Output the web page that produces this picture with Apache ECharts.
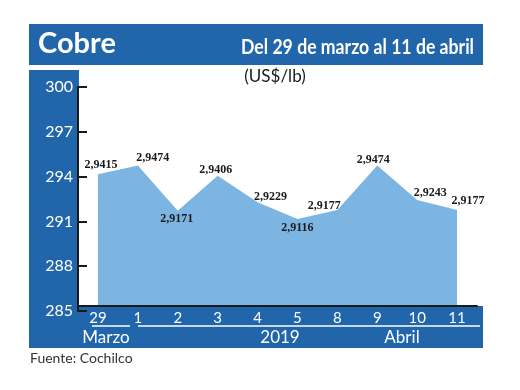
<!DOCTYPE html>
<html>
<head>
<meta charset="utf-8">
<script src="https://cdn.jsdelivr.net/npm/echarts@6/dist/echarts.min.js"></script>
<style>html,body{margin:0;padding:0;background:#fff;}#c{width:520px;height:390px;}</style>
</head>
<body>
<div id="c"></div>
<script>
// ---- data ----
const days = ['29', '1', '2', '3', '4', '5', '8', '9', '10', '11'];
const priceUsdLb = [2.9415, 2.9474, 2.9171, 2.9406, 2.9229, 2.9116, 2.9177, 2.9474, 2.9243, 2.9177];
const yTicks = [285, 288, 291, 294, 297, 300];
const groupLabels = ['Marzo', '2019', 'Abril'];
const titleText = 'Cobre';
const subtitleText = 'Del 29 de marzo al 11 de abril';
const unitText = '(US$/lb)';
const sourceText = 'Fuente: Cochilco';

// ---- layout / style ----
const labelOffsets = [[3,-9],[15,-8],[-1,8],[-2,-6],[13,-5],[0,9],[-13,-4],[-4,-6],[13,-7],[11,-9]];
const DARK = '#2166ab';
const LIGHT = '#7cb5e1';
const labelFont = '"Liberation Serif",serif';

function textWidth(font, txt) {
  const cv = document.createElement('canvas').getContext('2d');
  cv.font = font;
  return cv.measureText(txt).width;
}
const subFont = 'bold 21px Lato';
const subScale = 233 / textWidth(subFont, subtitleText);

const chart = echarts.init(document.getElementById('c'), null, {renderer: 'canvas'});

const seriesData = priceUsdLb.map((p, i) => ({
  value: p * 100,
  label: {offset: labelOffsets[i], formatter: p.toFixed(4).replace('.', ',')}
}));

chart.setOption({
  animation: false,
  backgroundColor: '#fff',
  grid: {left: 78, right: 43, top: 87, bottom: 79},
  xAxis: {
    type: 'category',
    data: days,
    boundaryGap: true,
    offset: -5,
    z: 10,
    axisLine: {lineStyle: {color: '#1a1a1a', width: 2}},
    axisTick: {show: false},
    axisLabel: {color: '#fff', fontFamily: 'Lato', fontSize: 15, margin: 5, interval: 0}
  },
  yAxis: {
    type: 'value',
    min: yTicks[0],
    max: yTicks[yTicks.length - 1],
    interval: 3,
    z: 10,
    splitLine: {show: false},
    axisLine: {show: true, lineStyle: {color: '#1a1a1a', width: 2}},
    axisTick: {show: true, inside: true, length: 9, lineStyle: {color: '#1a1a1a', width: 2}},
    axisLabel: {color: '#fff', fontFamily: 'Lato', fontSize: 16, margin: 5}
  },
  series: [{
    type: 'line',
    data: seriesData,
    symbol: 'circle',
    symbolSize: 1,
    showSymbol: true,
    itemStyle: {color: 'rgba(0,0,0,0)', borderWidth: 0},
    lineStyle: {width: 0, color: LIGHT},
    areaStyle: {color: LIGHT, opacity: 1},
    label: {
      show: true,
      position: 'inside',
      color: '#1a1a1a',
      fontFamily: labelFont,
      fontWeight: 'bold',
      fontSize: 12
    },
    z: 2
  }],
  graphic: [
    {type: 'rect', z: 0, shape: {x: 29, y: 24, width: 454, height: 41}, style: {fill: DARK}},
    {type: 'rect', z: 0, shape: {x: 29, y: 70, width: 50, height: 278}, style: {fill: DARK}},
    {type: 'rect', z: 5, shape: {x: 29, y: 306, width: 454, height: 42}, style: {fill: DARK}},
    {type: 'text', z: 20, x: 38, y: 44, style: {text: titleText, fill: '#fff', font: 'bold 29px Lato', textVerticalAlign: 'middle'}},
    {type: 'text', z: 20, x: 474, y: 47, scaleX: subScale, originX: 0, style: {text: subtitleText, fill: '#fff', font: subFont, textAlign: 'right', textVerticalAlign: 'middle'}},
    {type: 'text', z: 20, x: 275, y: 77, style: {text: unitText, fill: '#1a1a1a', font: '17px Lato', textAlign: 'center', textVerticalAlign: 'middle'}},
    {type: 'line', z: 20, shape: {x1: 92, y1: 326, x2: 130, y2: 326}, style: {stroke: '#fff', lineWidth: 1.5}},
    {type: 'line', z: 20, shape: {x1: 138, y1: 326, x2: 480, y2: 326}, style: {stroke: '#fff', lineWidth: 1.5}},
    {type: 'text', z: 20, x: 106, y: 338, style: {text: groupLabels[0], fill: '#fff', font: '17px Lato', textAlign: 'center', textVerticalAlign: 'middle'}},
    {type: 'text', z: 20, x: 280, y: 338, style: {text: groupLabels[1], fill: '#fff', font: '17px Lato', textAlign: 'center', textVerticalAlign: 'middle'}},
    {type: 'text', z: 20, x: 402, y: 338, style: {text: groupLabels[2], fill: '#fff', font: '17px Lato', textAlign: 'center', textVerticalAlign: 'middle'}},
    {type: 'text', z: 20, x: 30, y: 358, style: {text: sourceText, fill: '#333', font: '14px Lato', textVerticalAlign: 'middle'}}
  ]
});
</script>
</body>
</html>
